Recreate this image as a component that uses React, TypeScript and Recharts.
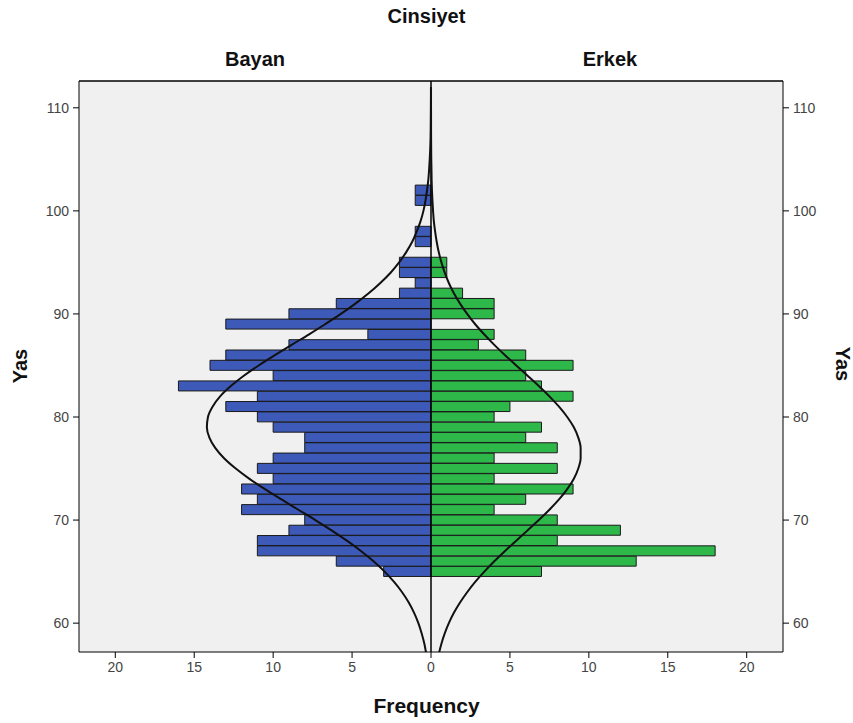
import React from "react";
import {
  ComposedChart,
  Bar,
  Line,
  XAxis,
  YAxis,
  CartesianGrid,
  ReferenceLine,
} from "recharts";

// age groups that carry bars (one-year bins)
const barAges = [
  65, 66, 67, 68, 69, 70, 71, 72, 73, 74, 75, 76, 77, 78, 79, 80, 81, 82, 83,
  84, 85, 86, 87, 88, 89, 90, 91, 92, 93, 94, 95, 96, 97, 98, 99, 100, 101, 102,
];
const bayanCounts = [
  3, 6, 11, 11, 9, 8, 12, 11, 12, 10, 11, 10, 8, 8, 10, 11, 13, 11, 16, 10, 14,
  13, 9, 4, 13, 9, 6, 2, 1, 2, 2, 0, 1, 1, 0, 0, 1, 1,
];
const erkekCounts = [
  7, 13, 18, 8, 12, 8, 4, 6, 9, 4, 8, 4, 8, 6, 7, 4, 5, 9, 7, 6, 9, 6, 3, 4, 0,
  4, 4, 2, 0, 1, 1, 0, 0, 0, 0, 0, 0, 0,
];

// normal curve heights
const curveAges = [
  57, 58, 59, 60, 61, 62, 63, 64, 65, 66, 67, 68, 69, 70, 71, 72, 73, 74, 75,
  76, 77, 78, 79, 80, 81, 82, 83, 84, 85, 86, 87, 88, 89, 90, 91, 92, 93, 94,
  95, 96, 97, 98, 99, 100, 101, 102, 103, 104, 105, 106, 107, 108, 109, 110,
  111, 112,
];
const bayanCurve = [
  0.3, 0.42, 0.59, 0.8, 1.07, 1.41, 1.83, 2.34, 2.94, 3.64, 4.44, 5.33, 6.3,
  7.33, 8.4, 9.47, 10.52, 11.5, 12.37, 13.11, 13.67, 14.04, 14.2, 14.13, 13.84,
  13.36, 12.68, 11.86, 10.92, 9.89, 8.83, 7.75, 6.71, 5.71, 4.79, 3.95, 3.21,
  2.56, 2.02, 1.57, 1.19, 0.9, 0.66, 0.48, 0.35, 0.25, 0.17, 0.12, 0.08, 0.05,
  0.03, 0.02, 0.014, 0.009, 0.005, 0.003,
];
const erkekCurve = [
  0.49, 0.66, 0.87, 1.13, 1.45, 1.84, 2.29, 2.8, 3.38, 4.01, 4.69, 5.4, 6.12,
  6.83, 7.5, 8.11, 8.63, 9.05, 9.33, 9.48, 9.48, 9.33, 9.05, 8.63, 8.11, 7.5,
  6.83, 6.12, 5.4, 4.69, 4.01, 3.38, 2.8, 2.29, 1.84, 1.45, 1.13, 0.87, 0.66,
  0.49, 0.36, 0.26, 0.18, 0.13, 0.09, 0.06, 0.04, 0.03, 0.017, 0.011, 0.007,
  0.004, 0.003, 0.002, 0.001, 0.001,
];

const ageTicks = [60, 70, 80, 90, 100, 110];
const freqTicks = [-20, -15, -10, -5, 0, 5, 10, 15, 20];
const ageDomain: [number, number] = [57.2, 112.6];

const tableData = curveAges.map((age, i) => {
  const b = barAges.indexOf(age);
  return {
    age,
    bayan: b >= 0 && bayanCounts[b] > 0 ? -bayanCounts[b] : null,
    erkek: b >= 0 && erkekCounts[b] > 0 ? erkekCounts[b] : null,
    bayanCurve: -bayanCurve[i],
    erkekCurve: erkekCurve[i],
  };
});

const font = "'Liberation Sans', Arial, sans-serif";
const tickStyle = { fontSize: 14, fill: "#444", fontFamily: font };
const titleStyle: React.CSSProperties = {
  position: "absolute",
  fontFamily: font,
  fontWeight: "bold",
  fontSize: 20,
  color: "#111",
  whiteSpace: "nowrap",
};

export default function App() {
  return (
    <div style={{ position: "absolute", left: 0, top: 0, width: 853, height: 723, background: "#fff" }}>
      <ComposedChart
        width={853}
        height={723}
        data={tableData}
        layout="vertical"
        stackOffset="sign"
        margin={{ top: 81, right: 20, bottom: 41, left: 29 }}
      >
        <CartesianGrid fill="#f0f0f0" horizontal={false} vertical={false} />
        <XAxis
          type="number"
          domain={[-22.3, 22.3]}
          ticks={freqTicks}
          tickFormatter={(v: number) => String(Math.abs(v))}
          allowDataOverflow
          stroke="#000"
          tick={tickStyle}
          tickSize={6}
          tickMargin={4}
          height={30}
        />
        <YAxis
          type="number"
          dataKey="age"
          domain={ageDomain}
          ticks={ageTicks}
          reversed
          allowDataOverflow
          stroke="#000"
          tick={tickStyle}
          tickSize={6}
          tickMargin={4}
          width={50}
        />
        <YAxis
          yAxisId="right"
          orientation="right"
          type="number"
          dataKey="age"
          domain={ageDomain}
          ticks={ageTicks}
          reversed
          allowDataOverflow
          stroke="#000"
          tick={tickStyle}
          tickSize={6}
          tickMargin={4}
          width={50}
        />
        <Bar dataKey="bayan" stackId="a" fill="#3d5ab9" stroke="#1a1a1a" strokeWidth={1} barSize={10} isAnimationActive={false} />
        <Bar dataKey="erkek" stackId="a" fill="#2eb84a" stroke="#1a1a1a" strokeWidth={1} barSize={10} isAnimationActive={false} />
        <ReferenceLine x={0} stroke="#000" strokeWidth={1.5} />
        <ReferenceLine y={ageDomain[1]} stroke="#000" strokeWidth={1.5} />
        <Line dataKey="bayanCurve" type="monotone" stroke="#111" strokeWidth={2} dot={false} isAnimationActive={false} />
        <Line dataKey="erkekCurve" type="monotone" stroke="#111" strokeWidth={2} dot={false} isAnimationActive={false} />
      </ComposedChart>

      <div style={{ ...titleStyle, left: 0, width: 853, top: 5, textAlign: "center" }}>Cinsiyet</div>
      <div style={{ ...titleStyle, left: 205, width: 100, top: 48, textAlign: "center" }}>Bayan</div>
      <div style={{ ...titleStyle, left: 560, width: 100, top: 48, textAlign: "center" }}>Erkek</div>
      <div style={{ ...titleStyle, left: 0, width: 853, top: 694, textAlign: "center", fontSize: 21 }}>Frequency</div>
      <div
        style={{ ...titleStyle, left: 20, top: 366, transform: "translate(-50%, -50%) rotate(-90deg)" }}
      >
        Yas
      </div>
      <div
        style={{ ...titleStyle, left: 842, top: 364, transform: "translate(-50%, -50%) rotate(90deg)" }}
      >
        Yas
      </div>
    </div>
  );
}
